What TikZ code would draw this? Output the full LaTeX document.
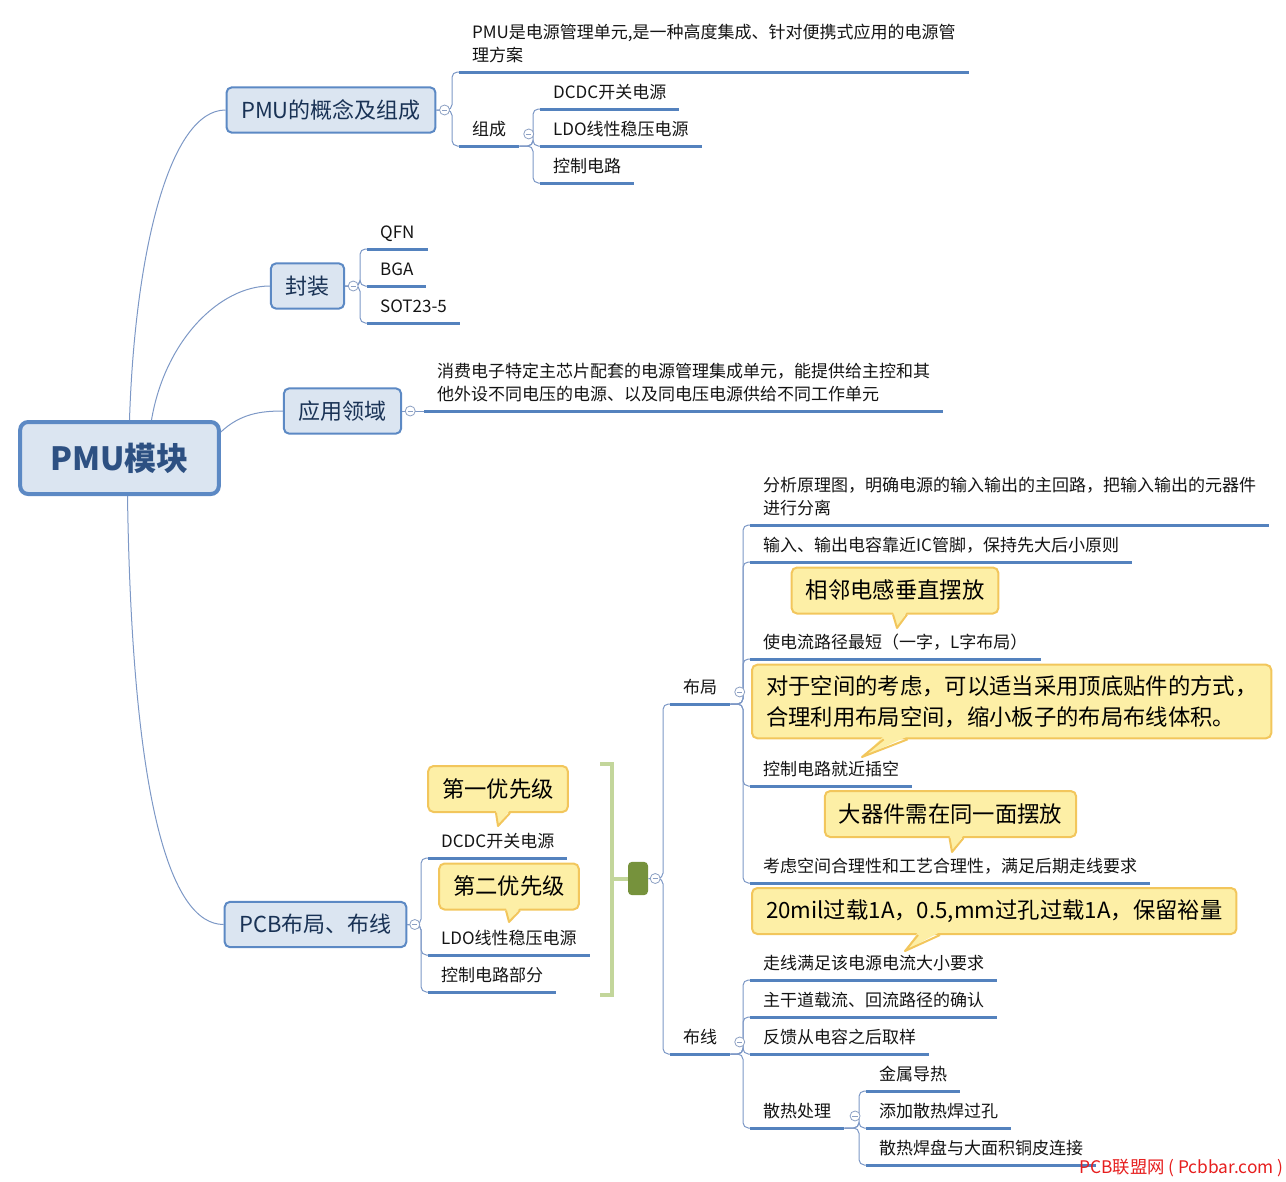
\documentclass[tikz,border=0pt]{standalone}
\usepackage{fontspec}
\setmainfont{Noto Sans CJK SC}
\usetikzlibrary{positioning,calc}

\definecolor{topicfill}{RGB}{219,229,241}
\definecolor{topicline}{RGB}{92,137,196}
\definecolor{topictext}{RGB}{25,50,85}
\definecolor{roottext}{RGB}{45,80,130}
\definecolor{linkline}{RGB}{125,152,198}
\definecolor{ulinecol}{RGB}{84,130,190}
\definecolor{leaftext}{RGB}{20,20,20}
\definecolor{calloutfill}{RGB}{253,239,166}
\definecolor{calloutline}{RGB}{242,198,92}
\definecolor{sumgreen}{RGB}{195,214,155}
\definecolor{sumdark}{RGB}{118,146,60}
\definecolor{markline}{RGB}{140,160,195}
\definecolor{wmred}{RGB}{230,30,30}

\tikzset{every picture/.style={line width=0.75pt}}
\tikzset{
  rootbox/.style={draw=topicline, line width=3pt, fill=topicfill, rounded corners=6pt,
    minimum width=149pt, minimum height=54pt, text=roottext,
    font=\fontsize{24}{28}\selectfont\bfseries},
  topicbox/.style={draw=topicline, line width=1.5pt, fill=topicfill, rounded corners=4pt,
    inner xsep=11pt, minimum height=34pt, text=topictext,
    font=\fontsize{16.5}{20}\selectfont},
  leaf/.style={anchor=south west, inner xsep=9.5pt, inner ysep=0pt, text height=10pt,
    text depth=7.3pt, text=leaftext, font=\fontsize{12.75}{17.25}\selectfont},
  leaftwo/.style={leaf, align=left},
  callbox/.style={draw=calloutline, line width=1.5pt, fill=calloutfill, rounded corners=4pt,
    inner xsep=10.5pt, minimum height=34.5pt, text=black,
    font=\fontsize{16.75}{23.25}\selectfont},
  calltail/.style={draw=calloutline, line width=1.5pt, line join=round},
  marker/.style={circle, draw=markline, fill=white, line width=0.6pt, inner sep=0pt,
    minimum size=7.5pt, path picture={\draw[markline, line width=0.6pt]
      ([xshift=-2pt]path picture bounding box.center) -- ([xshift=2pt]path picture bounding box.center);}},
  limb/.style={draw=linkline, line width=0.75pt},
  twig/.style={draw=linkline, line width=0.75pt, rounded corners=4pt},
  uline/.style={draw=ulinecol, line width=2.25pt},
  sumbrace/.style={draw=sumgreen, line width=3pt},
  sumbox/.style={fill=sumdark, rounded corners=3pt, minimum width=15pt, minimum height=25pt, inner sep=0pt}
}

\begin{document}
\begin{tikzpicture}[x=0.75pt,y=0.75pt,yscale=-1,xscale=1]
\useasboundingbox (0,0) rectangle (1286,1182);

% Central Topic
\node[rootbox] (root) at (119.5,458) {PMU模块};

% Main Topics
\node[topicbox] (t1) at (331,110) {PMU的概念及组成};
\node[topicbox] (t2) at (307.5,286) {封装};
\node[topicbox] (t3) at (342.5,411) {应用领域};
\node[topicbox] (t4) at (315.5,924.5) {PCB布局、布线};

% Curve Lines from the central topic
\draw[limb] ($(root.north)+(10,0)$) .. controls (135,250) and (170,110) .. (t1.west);
\draw[limb] ($(root.north)+(32,0)$) .. controls (165,340) and (220,286) .. (t2.west);
\draw[limb] ($(root.north east)+(0,12)$) .. controls (240,414) and (260,411) .. (t3.west);
\draw[limb] ($(root.south)+(8,0)$) .. controls (132,800) and (170,924.5) .. (t4.west);

% Text Node -- PMU的概念及组成
\node[leaftwo] (p1) at (459,72) {PMU是电源管理单元,是一种高度集成、针对便携式应用的电源管\\理方案};
\node[leaf] (p2) at (459,146) {组成};
\node[leaf] (p2a) at (540,109) {DCDC开关电源};
\node[leaf] (p2b) at (540,146) {LDO线性稳压电源};
\node[leaf] (p2c) at (540,183) {控制电路};

% Text Node -- 封装
\node[leaf] (q1) at (367,249) {QFN};
\node[leaf] (q2) at (367,286) {BGA};
\node[leaf] (q3) at (367,323) {SOT23-5};

% Text Node -- 应用领域
\node[leaftwo] (r1) at (424,411) {消费电子特定主芯片配套的电源管理集成单元，能提供给主控和其\\他外设不同电压的电源、以及同电压电源供给不同工作单元};

% Text Node -- PCB布局、布线
\node[leaf] (s1) at (428,858) {DCDC开关电源};
\node[leaf] (s2) at (428,955) {LDO线性稳压电源};
\node[leaf] (s3) at (428,992) {控制电路部分};
\node[sumbox] (sum) at (638,878.5) {};
\node[leaf] (u1) at (670,704) {布局};
\node[leaf] (u2) at (670,1054) {布线};

% Text Node -- 布局
\node[leaftwo] (v1) at (750,525) {分析原理图，明确电源的输入输出的主回路，把输入输出的元器件\\进行分离};
\node[leaf] (v2) at (750,562) {输入、输出电容靠近IC管脚，保持先大后小原则};
\node[leaf] (v3) at (750,659) {使电流路径最短（一字，L字布局）};
\node[leaf] (v4) at (750,786) {控制电路就近插空};
\node[leaf] (v5) at (750,883) {考虑空间合理性和工艺合理性，满足后期走线要求};

% Text Node -- 布线
\node[leaf] (w1) at (750,980) {走线满足该电源电流大小要求};
\node[leaf] (w2) at (750,1017) {主干道载流、回流路径的确认};
\node[leaf] (w3) at (750,1054) {反馈从电容之后取样};
\node[leaf] (w4) at (750,1128) {散热处理};
\node[leaf] (x1) at (866,1091) {金属导热};
\node[leaf] (x2) at (866,1128) {添加散热焊过孔};
\node[leaf] (x3) at (866,1165) {散热焊盘与大面积铜皮连接};

% Straight Lines -- branches
\foreach \c in {p1,p2} \draw[twig] (t1.east) -| ($(\c.south west)+(-7,0)$) -- (\c.south west);
\foreach \c in {p2a,p2b,p2c} \draw[twig] (p2.south east) -| ($(\c.south west)+(-7,0)$) -- (\c.south west);
\foreach \c in {q1,q2,q3} \draw[twig] (t2.east) -| ($(\c.south west)+(-7,0)$) -- (\c.south west);
\draw[twig] (t3.east) -- (r1.south west);
\foreach \c in {s1,s2,s3} \draw[twig] (t4.east) -| ($(\c.south west)+(-7,0)$) -- (\c.south west);
\foreach \c in {u1,u2} \draw[twig] (sum.east) -| ($(\c.south west)+(-7,0)$) -- (\c.south west);
\foreach \c in {v1,v2,v3,v4,v5} \draw[twig] (u1.south east) -| ($(\c.south west)+(-7,0)$) -- (\c.south west);
\foreach \c in {w1,w2,w3,w4} \draw[twig] (u2.south east) -| ($(\c.south west)+(-7,0)$) -- (\c.south west);
\foreach \c in {x1,x2,x3} \draw[twig] (w4.south east) -| ($(\c.south west)+(-7,0)$) -- (\c.south west);

% underlines
\foreach \n in {p1,p2,p2a,p2b,p2c,q1,q2,q3,r1,s1,s2,s3,u1,u2,v1,v2,v3,v4,v5,w1,w2,w3,w4,x1,x2,x3}
  \draw[uline] (\n.south west) -- (\n.south east);

% Summary bracket
\coordinate (bt) at (600,764);
\coordinate (bb) at (600,995);
\draw[sumbrace] (bt) -- ++(12,0) |- (bb);
\draw[sumbrace] ($(sum.west)+(-16,0)$) -- (sum.west);

% collapse markers
\node[marker, right=2pt of t1] (m1) {};
\node[marker, right=3pt of p2] (m2) {};
\node[marker, right=2pt of t2] (m3) {};
\node[marker, right=2pt of t3] (m4) {};
\node[marker, right=1.5pt of t4] (m5) {};
\node[marker, right=1pt of sum] (m6) {};
\node[marker, right=3pt of u1] (m7) {};
\node[marker, right=3pt of u2] (m8) {};
\node[marker, right=4pt of w4] (m9) {};

% Callouts
\node[callbox] (cA) at (498,789) {第一优先级};
\fill[calloutfill] ($(cA.south)+(-2,-3)$) -- (498,826) -- ($(cA.south)+(12,-3)$) -- cycle;
\draw[calltail] ($(cA.south)+(-2,0)$) -- (498,826) -- ($(cA.south)+(12,0)$);

\node[callbox] (cB) at (509,886.5) {第二优先级};
\fill[calloutfill] ($(cB.south)+(-3,-3)$) -- (509,922) -- ($(cB.south)+(11,-3)$) -- cycle;
\draw[calltail] ($(cB.south)+(-3,0)$) -- (509,922) -- ($(cB.south)+(11,0)$);

\node[callbox] (cC) at (895,590.5) {相邻电感垂直摆放};
\fill[calloutfill] ($(cC.south)+(-2,-3)$) -- (897,628) -- ($(cC.south)+(12,-3)$) -- cycle;
\draw[calltail] ($(cC.south)+(-2,0)$) -- (897,628) -- ($(cC.south)+(12,0)$);

\node[callbox, anchor=west, align=left, inner ysep=8pt] (cD) at (751,701.5)
  {对于空间的考虑，可以适当采用顶底贴件的方式，\\合理利用布局空间，缩小板子的布局布线体积。};
\fill[calloutfill] ($(cD.south)+(-128,-3)$) -- (862,757) -- ($(cD.south)+(-104,-3)$) -- cycle;
\draw[calltail] ($(cD.south)+(-128,0)$) -- (862,757) -- ($(cD.south)+(-104,0)$);

\node[callbox] (cE) at (950.5,814) {大器件需在同一面摆放};
\fill[calloutfill] ($(cE.south)+(-1,-3)$) -- (952,852) -- ($(cE.south)+(13,-3)$) -- cycle;
\draw[calltail] ($(cE.south)+(-1,0)$) -- (952,852) -- ($(cE.south)+(13,0)$);

\node[callbox, anchor=west] (cF) at (751,911) {20mil过载1A，0.5,mm过孔过载1A，保留裕量};
\fill[calloutfill] ($(cF.south west)+(167,-3)$) -- (905,951) -- ($(cF.south west)+(189,-3)$) -- cycle;
\draw[calltail] ($(cF.south west)+(167,0)$) -- (905,951) -- ($(cF.south west)+(189,0)$);

% Text Node -- watermark
\node[anchor=east, inner sep=0pt, text=wmred, font=\fontsize{13}{15}\selectfont] (wm) at (1284,1168) {PCB联盟网 ( Pcbbar.com )};

\end{tikzpicture}
\end{document}
